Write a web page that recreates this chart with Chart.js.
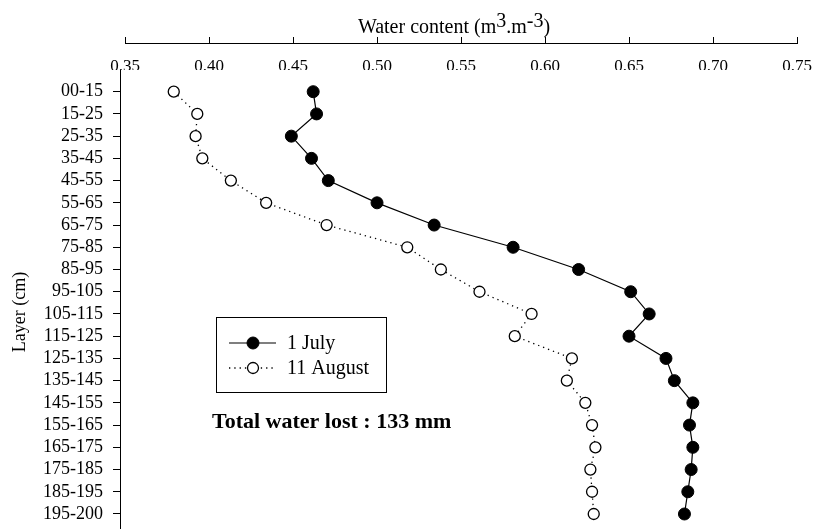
<!DOCTYPE html>
<html>
<head>
<meta charset="utf-8">
<script src="https://cdn.jsdelivr.net/npm/chart.js@4/dist/chart.umd.min.js"></script>
<style>
  body { margin: 0; background: #fff; }
  canvas { display: block; }
</style>
</head>
<body>
<canvas id="chart" width="814" height="530"></canvas>
<script>
// soil layers (cm), top to bottom
const layers = ['00-15', '15-25', '25-35', '35-45', '45-55', '55-65', '65-75', '75-85', '85-95', '95-105',
  '105-115', '115-125', '125-135', '135-145', '145-155', '155-165', '165-175', '175-185', '185-195', '195-200'];

// water content (m3.m-3)
const july = [0.462, 0.464, 0.449, 0.461, 0.471, 0.500, 0.534, 0.581, 0.620, 0.651,
  0.662, 0.650, 0.672, 0.677, 0.688, 0.686, 0.688, 0.687, 0.685, 0.683];
const august = [0.379, 0.393, 0.392, 0.396, 0.413, 0.434, 0.470, 0.518, 0.538, 0.561,
  0.592, 0.582, 0.616, 0.613, 0.624, 0.628, 0.630, 0.627, 0.628, 0.629];

const xTicks = [0.35, 0.40, 0.45, 0.50, 0.55, 0.60, 0.65, 0.70, 0.75];

const FONT = "'Liberation Serif', 'Times New Roman', serif";

// top axis line, its tick marks, the titles
const axisExtras = {
  id: 'axisExtras',
  afterDraw(chart) {
    const ctx = chart.ctx;
    const x = chart.scales.x;
    const y0 = 43;
    ctx.save();
    ctx.strokeStyle = '#000';
    ctx.lineWidth = 1;
    ctx.beginPath();
    ctx.moveTo(Math.round(x.getPixelForValue(xTicks[0])), y0 + 0.5);
    ctx.lineTo(Math.round(x.getPixelForValue(xTicks[xTicks.length - 1])) + 1, y0 + 0.5);
    xTicks.forEach(v => {
      const px = Math.round(x.getPixelForValue(v)) + 0.5;
      ctx.moveTo(px, y0 + 1);
      ctx.lineTo(px, y0 - 6);
    });
    ctx.stroke();

    // x title with superscripts
    const parts = [
      { t: 'Water content (m', sup: false },
      { t: '3', sup: true },
      { t: '.m', sup: false },
      { t: '-3', sup: true },
      { t: ')', sup: false }
    ];
    ctx.font = '20px ' + FONT;
    ctx.fillStyle = '#000';
    ctx.textBaseline = 'alphabetic';
    ctx.textAlign = 'left';
    const total = parts.reduce((s, p) => s + ctx.measureText(p.t).width, 0);
    let cx = 454 - total / 2;
    parts.forEach(p => {
      ctx.fillText(p.t, cx, p.sup ? 27 : 33);
      cx += ctx.measureText(p.t).width;
    });

    // y title
    ctx.translate(20, 312);
    ctx.rotate(-Math.PI / 2);
    ctx.font = '18px ' + FONT;
    ctx.textAlign = 'center';
    ctx.textBaseline = 'middle';
    ctx.fillText('Layer (cm)', 0, 0);
    ctx.restore();
  }
};

// legend box and annotation
const boxLegend = {
  id: 'boxLegend',
  afterDraw(chart) {
    const ctx = chart.ctx;
    ctx.save();
    ctx.strokeStyle = '#000';
    ctx.lineWidth = 1;
    ctx.strokeRect(216.5, 317.5, 170, 75);

    chart.data.datasets.forEach((ds, i) => {
      const y = 343 + i * 25;
      ctx.beginPath();
      ctx.strokeStyle = ds.borderColor;
      ctx.lineWidth = ds.borderWidth;
      ctx.setLineDash(ds.borderDash || []);
      ctx.moveTo(229, y);
      ctx.lineTo(276, y);
      ctx.stroke();
      ctx.setLineDash([]);
      ctx.beginPath();
      ctx.arc(253, y, ds.pointRadius, 0, Math.PI * 2);
      ctx.fillStyle = ds.pointBackgroundColor;
      ctx.fill();
      ctx.lineWidth = ds.pointBorderWidth;
      ctx.strokeStyle = ds.pointBorderColor;
      ctx.stroke();

      ctx.fillStyle = '#000';
      ctx.font = '20px ' + FONT;
      ctx.textBaseline = 'middle';
      ctx.textAlign = 'left';
      ctx.fillText(ds.label, 287, y + 1);
    });

    ctx.font = 'bold 22px ' + FONT;
    ctx.fillStyle = '#000';
    ctx.textBaseline = 'middle';
    ctx.fillText('Total water lost : 133 mm', 212, 422);
    ctx.restore();
  }
};

const ctx = document.getElementById('chart').getContext('2d');
new Chart(ctx, {
  type: 'scatter',
  data: {
    datasets: [
      {
        label: '1 July',
        data: july.map((v, i) => ({ x: v, y: i })),
        showLine: true,
        borderColor: '#000',
        borderWidth: 1.2,
        pointRadius: 6,
        pointBackgroundColor: '#000',
        pointBorderColor: '#000',
        pointBorderWidth: 1
      },
      {
        label: '11 August',
        data: august.map((v, i) => ({ x: v, y: i })),
        showLine: true,
        borderColor: '#000',
        borderWidth: 1.3,
        borderDash: [1.3, 4],
        pointRadius: 5.5,
        pointBackgroundColor: '#fff',
        pointBorderColor: '#000',
        pointBorderWidth: 1.3
      }
    ]
  },
  options: {
    responsive: false,
    animation: false,
    devicePixelRatio: 1,
    layout: { autoPadding: false, padding: { top: 0, left: 0, right: 17, bottom: 2 } },
    plugins: {
      legend: { display: false },
      tooltip: { enabled: false }
    },
    scales: {
      x: {
        type: 'linear',
        position: 'top',
        min: 0.347,
        max: 0.75,
        afterBuildTicks: s => { s.ticks = xTicks.map(v => ({ value: v })); },
        afterFit: s => { s.height = 70; s.paddingLeft = 0; s.paddingRight = 0; },
        grid: { display: false, drawTicks: false },
        border: { display: false },
        ticks: {
          color: '#000',
          padding: -7,
          maxRotation: 0,
          font: { family: FONT, size: 17 },
          callback: v => v.toFixed(2)
        }
      },
      y: {
        type: 'linear',
        reverse: true,
        min: -0.976,
        max: 19.63,
        afterBuildTicks: s => { s.ticks = layers.map((l, i) => ({ value: i })); },
        afterFit: s => { s.width = 120; s.paddingTop = 0; s.paddingBottom = 0; },
        grid: { drawOnChartArea: false, tickLength: 7, color: '#000', tickColor: '#000' },
        border: { display: true, color: '#000', width: 1 },
        ticks: {
          color: '#000',
          padding: 10,
          autoSkip: false,
          font: { family: FONT, size: 18 },
          callback: v => layers[v]
        }
      }
    }
  },
  plugins: [axisExtras, boxLegend]
});
</script>
</body>
</html>
